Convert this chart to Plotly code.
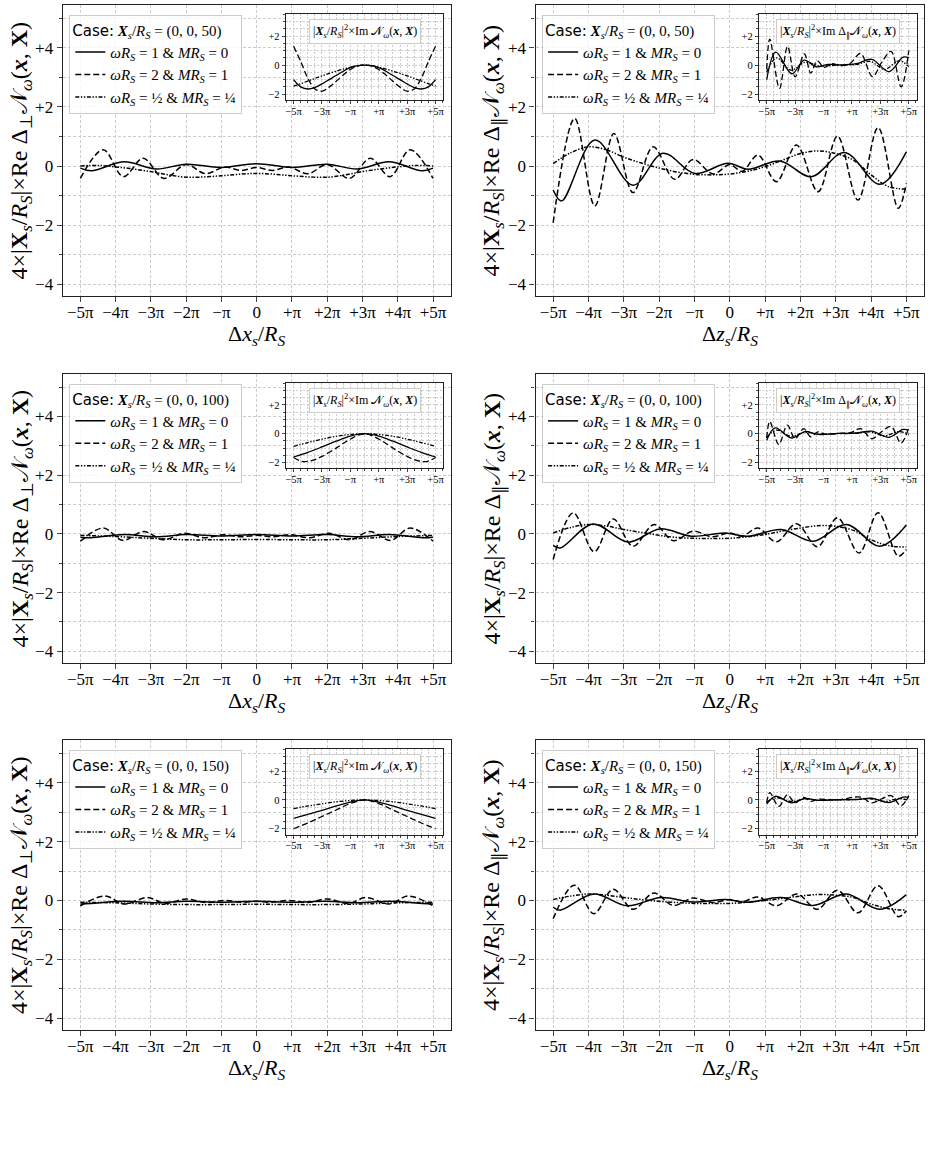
import plotly.graph_objects as go

W, H = 931, 1151
SERIF = "Liberation Serif"
SANS = "DejaVu Sans"

# ---------------- tick labels ----------------
MAIN_X_TICKS = [-5, -4, -3, -2, -1, 0, 1, 2, 3, 4, 5]
MAIN_X_LABELS = ["−5π", "−4π", "−3π", "−2π", "−π", "0", "+π", "+2π", "+3π", "+4π", "+5π"]
MAIN_Y_TICKS = [-4, -2, 0, 2, 4]
MAIN_Y_LABELS = ["−4", "−2", "0", "+2", "+4"]
MAIN_Y_MINOR = [-3, -1, 1, 3, 5]
INS_X_TICKS = [-5, -3, -1, 1, 3, 5]
INS_X_LABELS = ["−5π", "−3π", "−π", "+π", "+3π", "+5π"]
INS_X_MINOR = [-5.5, -4.5, -4, -3.5, -2.5, -2, -1.5, -0.5, 0, 0.5, 1.5, 2, 2.5, 3.5, 4, 4.5, 5.5]
INS_Y_TICKS = [-2, 0, 2]
INS_Y_LABELS = ["−2", "0", "+2"]
INS_Y_MINOR = [-1.5, -1, -0.5, 0.5, 1, 1.5, 2.5, 3, 3.5]

CASES = ["50", "50", "100", "100", "150", "150"]

# ---------------- data (x in units of pi) ----------------
# Panel A: Re Delta_perp, Xs/RS = (0,0,50)
A_sol_x = [-5, -4.68, -3.75, -2.85, -2.0, -1.0, 0.0, 1.0, 2.0, 2.85, 3.75, 4.68, 5]
A_sol_y = [-0.07, -0.16, 0.14, -0.1, 0.06, -0.05, 0.08, -0.05, 0.06, -0.1, 0.14, -0.16, -0.07]
A_das_x = [-5, -4.35, -3.78, -3.22, -2.63, -2.0, -1.45, -0.9, -0.45, 0, 0.45, 0.9, 1.45, 2.0, 2.63, 3.22, 3.78, 4.35, 5]
A_das_y = [-0.42, 0.55, -0.36, 0.26, -0.42, 0.05, -0.26, -0.03, -0.15, -0.05, -0.15, -0.03, -0.26, 0.05, -0.42, 0.26, -0.36, 0.55, -0.42]
A_dd_x = [-5, -4.5, -4, -3.5, -3, -2.5, -2, -1.5, -1, -0.5, 0, 0.5, 1, 1.5, 2, 2.5, 3, 3.5, 4, 4.5, 5]
A_dd_y = [0.0, 0.02, -0.03, -0.1, -0.19, -0.3, -0.38, -0.37, -0.33, -0.28, -0.25, -0.28, -0.33, -0.37, -0.38, -0.3, -0.19, -0.1, -0.03, 0.02, 0.0]
# inset A: Im N
a_x = [-5, -4.5, -4, -3.5, -3, -2.5, -2, -1.5, -1, -0.5, 0, 0.5, 1, 1.5, 2, 2.5, 3, 3.5, 4, 4.5, 5]
a_sol = [-1.0, -1.5, -1.65, -1.55, -1.3, -1.0, -0.72, -0.42, -0.18, -0.04, 0, -0.04, -0.18, -0.42, -0.72, -1.0, -1.3, -1.55, -1.65, -1.5, -1.0]
a_das = [1.3, 0.25, -0.9, -1.65, -1.8, -1.52, -1.12, -0.68, -0.3, -0.07, 0, -0.07, -0.3, -0.68, -1.12, -1.52, -1.8, -1.65, -0.9, 0.25, 1.3]
a_dd = [-1.45, -1.28, -1.1, -0.92, -0.74, -0.57, -0.42, -0.27, -0.15, -0.04, 0, -0.04, -0.15, -0.27, -0.42, -0.57, -0.74, -0.92, -1.1, -1.28, -1.45]

# Panel B: Re Delta_par, (0,0,50)
B_sol_x = [-5, -4.76, -3.82, -2.74, -1.89, -0.99, -0.05, 0.52, 1.42, 2.31, 3.25, 4.25, 5]
B_sol_y = [-0.81, -1.18, 0.88, -0.65, 0.43, -0.25, 0.09, -0.11, 0.17, -0.36, 0.46, -0.62, 0.48]
B_das_x = [-5, -4.39, -3.82, -3.28, -2.74, -2.17, -1.56, -1.04, -0.47, 0.0, 0.35, 0.8, 1.32, 1.89, 2.5, 3.05, 3.63, 4.2, 4.77, 5]
B_das_y = [-1.92, 1.61, -1.35, 1.1, -0.9, 0.65, -0.45, 0.22, -0.27, 0.05, -0.18, 0.37, -0.53, 0.71, -0.87, 1.01, -1.15, 1.3, -1.43, -0.59]
B_dd_x = [-5, -4.5, -4, -3.5, -3, -2.5, -2, -1.5, -1, -0.5, 0, 0.5, 1, 1.5, 2, 2.5, 3, 3.5, 4, 4.5, 5]
B_dd_y = [0.08, 0.45, 0.65, 0.55, 0.3, 0.1, -0.07, -0.2, -0.28, -0.3, -0.27, -0.18, -0.02, 0.2, 0.42, 0.51, 0.42, 0.2, -0.3, -0.7, -0.78]
# inset B: Im Delta_par N
b_sol_x = [-5, -4.36, -3.23, -2.35, -1.5, -0.7, 0.3, 1.3, 2.4, 3.6, 4.6, 5]
b_sol_y = [-1.0, 0.9, -0.6, 0.35, -0.12, 0.05, 0.02, 0.1, 0.4, -0.45, 0.55, 0.5]
b_das_x = [-5, -4.78, -4.1, -3.53, -3.0, -2.35, -1.9, -1.45, -0.95, -0.4, 0.2, 0.9, 1.6, 2.45, 3.1, 3.75, 4.46, 5]
b_das_y = [-0.3, 1.8, -1.6, 1.3, -0.8, 0.77, -0.55, 0.3, -0.15, 0.1, -0.05, 0.15, 0.8, -0.8, 0.2, 0.95, -1.5, 1.0]
b_dd_x = [-5, -4.3, -3.3, -2.3, -1.3, 0, 1.3, 2.3, 3.3, 4.3, 5]
b_dd_y = [-0.5, 0.5, -0.35, 0.2, -0.05, 0.0, 0.05, 0.25, -0.3, 0.3, -0.1]

# Panel C: Re Delta_perp, (0,0,100)
C_sol_x = [-5, -4.7, -3.75, -2.85, -2.0, -1.0, 0, 1.0, 2.0, 2.85, 3.75, 4.7, 5]
C_sol_y = [-0.11, -0.13, -0.02, -0.1, -0.02, -0.07, -0.02, -0.07, -0.02, -0.1, -0.02, -0.13, -0.11]
C_das_x = [-5, -4.35, -3.8, -3.2, -2.65, -2.05, -1.5, -0.95, -0.45, 0, 0.45, 0.95, 1.5, 2.05, 2.65, 3.2, 3.8, 4.35, 5]
C_das_y = [-0.25, 0.2, -0.22, 0.08, -0.2, 0.02, -0.13, -0.03, -0.1, -0.05, -0.1, -0.03, -0.13, 0.02, -0.2, 0.08, -0.22, 0.2, -0.25]
C_dd_x = [-5, -4, -3, -2, -1, 0, 1, 2, 3, 4, 5]
C_dd_y = [-0.05, -0.09, -0.15, -0.2, -0.2, -0.19, -0.2, -0.2, -0.15, -0.09, -0.05]
# inset C
c_x = [-5, -4, -3, -2, -1, 0, 1, 2, 3, 4, 5]
c_sol = [-1.62, -1.3, -0.92, -0.52, -0.17, 0, -0.17, -0.52, -0.92, -1.3, -1.62]
c_das_x = [-5, -4.5, -4, -3.5, -3, -2, -1, 0, 1, 2, 3, 3.5, 4, 4.5, 5]
c_das_y = [-1.65, -1.9, -1.93, -1.8, -1.58, -1.0, -0.37, 0, -0.37, -1.0, -1.58, -1.8, -1.93, -1.9, -1.65]
c_dd = [-0.88, -0.62, -0.38, -0.18, -0.05, 0, -0.05, -0.18, -0.38, -0.62, -0.88]

# Panel D: Re Delta_par, (0,0,100)
D_sol_x = [-5, -4.8, -3.87, -2.88, -1.98, -1.08, -0.14, 0.52, 1.46, 2.36, 3.3, 4.25, 5]
D_sol_y = [-0.39, -0.48, 0.34, -0.28, 0.17, -0.08, 0.03, -0.08, 0.15, -0.25, 0.32, -0.42, 0.3]
D_das_x = [-5, -4.43, -3.84, -3.3, -2.74, -2.14, -1.6, -1.04, -0.5, 0.0, 0.35, 0.8, 1.32, 1.89, 2.48, 3.05, 3.66, 4.2, 4.77, 5]
D_das_y = [-0.87, 0.72, -0.61, 0.51, -0.42, 0.32, -0.23, 0.09, -0.1, 0.03, -0.08, 0.2, -0.27, 0.35, -0.44, 0.55, -0.65, 0.72, -0.76, -0.53]
D_dd_x = [-5, -4.5, -4, -3.5, -3, -2.5, -2, -1.5, -1, -0.5, 0, 0.5, 1, 1.5, 2, 2.5, 3, 3.5, 4, 4.5, 5]
D_dd_y = [0.03, 0.22, 0.32, 0.27, 0.15, 0.05, -0.05, -0.12, -0.15, -0.16, -0.15, -0.1, -0.02, 0.1, 0.2, 0.28, 0.26, 0.12, -0.2, -0.4, -0.45]
# inset D
d_sol_x = [-5, -4.4, -3.25, -2.3, -1.4, 0, 1.3, 2.4, 3.6, 4.6, 5]
d_sol_y = [-0.45, 0.4, -0.3, 0.15, -0.05, 0.02, 0.05, 0.18, -0.25, 0.3, 0.25]
d_das_x = [-5, -4.78, -4.15, -3.55, -3.0, -2.4, -1.9, -1.4, -0.8, 0, 0.9, 1.6, 2.4, 3.1, 3.75, 4.45, 5]
d_das_y = [-0.3, 0.85, -0.75, 0.6, -0.35, 0.35, -0.22, 0.12, -0.05, 0.02, 0.08, 0.35, -0.35, 0.15, 0.5, -0.65, 0.45]
d_dd_x = [-5, -4.3, -3.3, -2.3, -1.3, 0, 1.3, 2.3, 3.3, 4.3, 5]
d_dd_y = [-0.25, 0.25, -0.18, 0.1, -0.03, 0.0, 0.03, 0.12, -0.15, 0.15, -0.05]

# Panel E: Re Delta_perp, (0,0,150)
E_sol_x = [-5, -4.7, -3.75, -2.85, -2.0, -1.0, 0, 1.0, 2.0, 2.85, 3.75, 4.7, 5]
E_sol_y = [-0.12, -0.1, -0.03, -0.08, -0.03, -0.06, -0.03, -0.06, -0.03, -0.08, -0.03, -0.1, -0.12]
E_das_x = [-5, -4.3, -3.75, -3.1, -2.6, -2.0, -1.45, -0.9, -0.4, 0, 0.4, 0.9, 1.45, 2.0, 2.6, 3.1, 3.75, 4.3, 5]
E_das_y = [-0.18, 0.15, -0.12, 0.1, -0.1, 0.05, -0.07, 0.0, -0.06, -0.03, -0.06, 0.0, -0.07, 0.05, -0.1, 0.1, -0.12, 0.15, -0.18]
E_dd_x = [-5, -4, -3, -2, -1, 0, 1, 2, 3, 4, 5]
E_dd_y = [-0.06, -0.08, -0.12, -0.14, -0.14, -0.13, -0.14, -0.14, -0.12, -0.08, -0.06]
# inset E
e_x = [-5, -4, -3, -2, -1, 0, 1, 2, 3, 4, 5]
e_sol = [-1.28, -1.0, -0.72, -0.42, -0.15, 0, -0.15, -0.42, -0.72, -1.0, -1.28]
e_das = [-2.0, -1.6, -1.15, -0.7, -0.25, 0, -0.25, -0.7, -1.15, -1.6, -2.0]
e_dd = [-0.6, -0.42, -0.27, -0.13, -0.04, 0, -0.04, -0.13, -0.27, -0.42, -0.6]

# Panel F: Re Delta_par, (0,0,150)
F_sol_x = [-5, -4.8, -3.85, -2.9, -1.95, -1.05, -0.1, 0.5, 1.45, 2.35, 3.3, 4.25, 5]
F_sol_y = [-0.23, -0.33, 0.22, -0.18, 0.1, -0.05, 0.03, -0.06, 0.1, -0.17, 0.22, -0.3, 0.2]
F_das_x = [-5, -4.4, -3.85, -3.3, -2.74, -2.15, -1.6, -1.04, -0.5, 0.0, 0.35, 0.8, 1.32, 1.9, 2.48, 3.05, 3.63, 4.2, 4.77, 5]
F_das_y = [-0.62, 0.52, -0.45, 0.38, -0.3, 0.25, -0.17, 0.08, -0.07, 0.03, -0.05, 0.12, -0.18, 0.22, -0.3, 0.35, -0.42, 0.5, -0.55, -0.35]
F_dd_x = [-5, -4.5, -4, -3.5, -3, -2.5, -2, -1.5, -1, -0.5, 0, 0.5, 1, 1.5, 2, 2.5, 3, 3.5, 4, 4.5, 5]
F_dd_y = [0.03, 0.15, 0.22, 0.18, 0.1, 0.03, -0.03, -0.07, -0.1, -0.1, -0.1, -0.06, 0.0, 0.07, 0.15, 0.2, 0.18, 0.1, -0.12, -0.28, -0.33]
# inset F
f_sol_x = [-5, -4.4, -3.25, -2.3, -1.4, 0, 1.3, 2.4, 3.6, 4.6, 5]
f_sol_y = [-0.3, 0.25, -0.2, 0.1, -0.03, 0.02, 0.03, 0.12, -0.18, 0.2, 0.18]
f_das_x = [-5, -4.78, -4.15, -3.55, -3.0, -2.4, -1.9, -1.4, 0, 1.6, 2.4, 3.1, 3.75, 4.45, 5]
f_das_y = [-0.2, 0.5, -0.45, 0.35, -0.2, 0.18, -0.1, 0.05, 0.0, 0.2, -0.2, 0.08, 0.3, -0.4, 0.3]
f_dd_x = [-5, -4.3, -3.3, -2.3, -1.3, 0, 1.3, 2.3, 3.3, 4.3, 5]
f_dd_y = [-0.15, 0.15, -0.1, 0.06, -0.02, 0.0, 0.02, 0.08, -0.1, 0.1, -0.03]

# ---------------- text ----------------
SERIES_NAMES = [
    "<i>ωR</i><sub><i>S</i></sub> = 1 &amp; <i>MR</i><sub><i>S</i></sub> = 0",
    "<i>ωR</i><sub><i>S</i></sub> = 2 &amp; <i>MR</i><sub><i>S</i></sub> = 1",
    "<i>ωR</i><sub><i>S</i></sub> = ½ &amp; <i>MR</i><sub><i>S</i></sub> = ¼",
]
NCAL = "𝒩"
XS = "<b><i>X</i></b><sub><i>s</i></sub>"
XS_UP = "<b>X</b><sub><i>s</i></sub>"
RS = "<i>R</i><sub><i>S</i></sub>"
ARGS = "(<b><i>x</i></b>, <b><i>X</i></b>)"


def ytitle(sym):
    return ("4×|" + XS_UP + "/" + RS + "|×Re Δ<sub>" + sym + "</sub>" + NCAL
            + "<sub><i>ω</i></sub>(<b><i>x</i></b>, <b>X</b>)")


def inset_title(sym):
    d = "" if sym is None else "Δ<sub>" + sym + "</sub>"
    return "|" + XS + "/" + RS + "|<sup>2</sup>×Im " + d + NCAL + "<sub><i>ω</i></sub>" + ARGS


panels = [
    dict(sym="⊥", xl="x", data=[(A_sol_x, A_sol_y), (A_das_x, A_das_y), (A_dd_x, A_dd_y)],
         ins=[(a_x, a_sol), (a_x, a_das), (a_x, a_dd)]),
    dict(sym="∥", xl="z", data=[(B_sol_x, B_sol_y), (B_das_x, B_das_y), (B_dd_x, B_dd_y)],
         ins=[(b_sol_x, b_sol_y), (b_das_x, b_das_y), (b_dd_x, b_dd_y)]),
    dict(sym="⊥", xl="x", data=[(C_sol_x, C_sol_y), (C_das_x, C_das_y), (C_dd_x, C_dd_y)],
         ins=[(c_x, c_sol), (c_das_x, c_das_y), (c_x, c_dd)]),
    dict(sym="∥", xl="z", data=[(D_sol_x, D_sol_y), (D_das_x, D_das_y), (D_dd_x, D_dd_y)],
         ins=[(d_sol_x, d_sol_y), (d_das_x, d_das_y), (d_dd_x, d_dd_y)]),
    dict(sym="⊥", xl="x", data=[(E_sol_x, E_sol_y), (E_das_x, E_das_y), (E_dd_x, E_dd_y)],
         ins=[(e_x, e_sol), (e_x, e_das), (e_x, e_dd)]),
    dict(sym="∥", xl="z", data=[(F_sol_x, F_sol_y), (F_das_x, F_das_y), (F_dd_x, F_dd_y)],
         ins=[(f_sol_x, f_sol_y), (f_das_x, f_das_y), (f_dd_x, f_dd_y)]),
]

DASHES = ["solid", "6px,3px", "4px,1.6px,1.4px,1.6px,1.4px,1.6px"]

# ---------------- geometry (pixels) ----------------
COLS = [(62.7, 450.7), (535.5, 924.0)]
ROWS = [(5, 296), (374, 663), (740, 1030)]
YLAB_X = [21, 493]


def px_x(v):
    return v / W


def px_y(v):
    return 1 - v / H


fig = go.Figure()
layout = dict(width=W, height=H, margin=dict(l=0, r=0, t=0, b=0),
              paper_bgcolor="white", plot_bgcolor="white",
              font=dict(family=SERIF, color="black"), showlegend=True)
annotations = []

grid_col = "#cccccc"

for p, pan in enumerate(panels):
    r, c = divmod(p, 2)
    x0, x1 = COLS[c]
    y0, y1 = ROWS[r]
    w, h = x1 - x0, y1 - y0
    k = p + 1
    ki = p + 7
    ax = "x" if k == 1 else "x%d" % k
    ay = "y" if k == 1 else "y%d" % k
    ix, iy = "x%d" % ki, "y%d" % ki
    leg = "legend" if k == 1 else "legend%d" % k

    # main traces
    for s, (xs, ys) in enumerate(pan["data"]):
        fig.add_trace(go.Scatter(
            x=xs, y=ys, mode="lines", name=SERIES_NAMES[s],
            line=dict(color="black", width=1.5, dash=DASHES[s], shape="spline", smoothing=1.0),
            xaxis=ax, yaxis=ay, legend=leg, showlegend=True, hoverinfo="skip"))
    # inset traces
    for s, (xs, ys) in enumerate(pan["ins"]):
        fig.add_trace(go.Scatter(
            x=xs, y=ys, mode="lines",
            line=dict(color="black", width=1.3, dash=DASHES[s], shape="spline", smoothing=1.0),
            xaxis=ix, yaxis=iy, showlegend=False, hoverinfo="skip"))

    xname = "xaxis" if k == 1 else "xaxis%d" % k
    yname = "yaxis" if k == 1 else "yaxis%d" % k
    layout[xname] = dict(
        domain=[px_x(x0), px_x(x1)], anchor=ay, range=[-5.5, 5.5],
        tickmode="array", tickvals=MAIN_X_TICKS, ticktext=MAIN_X_LABELS,
        tickfont=dict(size=17, family=SERIF), ticks="outside", ticklen=5, tickwidth=1,
        ticklabelstandoff=-5,
        showline=True, mirror=True, linecolor="#222", linewidth=1.2,
        showgrid=True, gridcolor=grid_col, gridwidth=0.8, griddash="3px,2px", zeroline=False)
    layout[yname] = dict(
        domain=[px_y(y1), px_y(y0)], anchor=ax, range=[-4.4, 5.45],
        tickmode="array", tickvals=MAIN_Y_TICKS, ticktext=MAIN_Y_LABELS,
        tickfont=dict(size=17, family=SERIF), ticks="outside", ticklen=5, tickwidth=1,
        minor=dict(tickvals=MAIN_Y_MINOR, ticks="outside", ticklen=3, showgrid=True,
                   gridcolor=grid_col, gridwidth=0.8, griddash="3px,2px"),
        showline=True, mirror=True, linecolor="#222", linewidth=1.2,
        showgrid=True, gridcolor=grid_col, gridwidth=0.8, griddash="3px,2px", zeroline=False)

    # inset axes
    ix0, ix1 = x0 + 0.575 * w, x0 + 0.981 * w
    iy0, iy1 = y0 + 0.03 * h, y0 + 0.326 * h
    layout["xaxis%d" % ki] = dict(
        domain=[px_x(ix0), px_x(ix1)], anchor=iy, range=[-5.55, 5.55],
        tickmode="array", tickvals=INS_X_TICKS, ticktext=INS_X_LABELS,
        tickfont=dict(size=10.5, family=SERIF), ticks="outside", ticklen=3,
        ticklabelstandoff=-2,
        minor=dict(tickvals=INS_X_MINOR, ticks="outside", ticklen=2, showgrid=True,
                   gridcolor=grid_col, gridwidth=0.6, griddash="2px,1.5px"),
        showline=True, mirror=True, linecolor="#222", linewidth=1.2,
        showgrid=True, gridcolor=grid_col, gridwidth=0.6, griddash="2px,1.5px", zeroline=False)
    layout["yaxis%d" % ki] = dict(
        domain=[px_y(iy1), px_y(iy0)], anchor=ix, range=[-2.4, 3.55],
        tickmode="array", tickvals=INS_Y_TICKS, ticktext=INS_Y_LABELS,
        tickfont=dict(size=10.5, family=SERIF), ticks="outside", ticklen=3,
        minor=dict(tickvals=INS_Y_MINOR, ticks="outside", ticklen=2, showgrid=True,
                   gridcolor=grid_col, gridwidth=0.6, griddash="2px,1.5px"),
        showline=True, mirror=True, linecolor="#222", linewidth=1.2,
        showgrid=True, gridcolor=grid_col, gridwidth=0.6, griddash="2px,1.5px", zeroline=False)

    # legend
    layout[leg] = dict(
        x=px_x(x0 + 0.017 * w), y=px_y(y0 + 0.035 * h), xanchor="left", yanchor="top",
        bgcolor="rgba(255,255,255,0.8)", bordercolor="#cccccc", borderwidth=1,
        font=dict(size=15, family=SERIF), tracegroupgap=0,
        title=dict(text="<span style='font-family:DejaVu Sans'>Case:</span> " + XS + "/" + RS
                   + " = (0, 0, " + CASES[p] + ")", font=dict(size=15, family=SERIF)))

    # inset title box
    annotations.append(dict(
        x=px_x((ix0 + ix1) / 2), y=px_y(iy0 + 5), xref="paper", yref="paper",
        xanchor="center", yanchor="top", showarrow=False,
        text=inset_title(None if pan["sym"] == "⊥" else "∥"),
        font=dict(size=12, family=SERIF), bgcolor="rgba(255,255,255,0.85)",
        bordercolor="#cccccc", borderwidth=1, borderpad=3))

    # axis titles
    annotations.append(dict(
        x=px_x((x0 + x1) / 2), y=px_y(y1 + 39), xref="paper", yref="paper",
        xanchor="center", yanchor="middle", showarrow=False,
        text="Δ<i>" + pan["xl"] + "</i><sub><i>s</i></sub>/" + RS,
        font=dict(size=22, family=SERIF)))
    annotations.append(dict(
        x=px_x(YLAB_X[c]), y=px_y((y0 + y1) / 2), xref="paper", yref="paper",
        xanchor="center", yanchor="middle", showarrow=False, textangle=-90,
        text=ytitle(pan["sym"]), font=dict(size=24, family=SERIF)))

layout["annotations"] = annotations
fig.update_layout(**layout)
fig.write_html("out.html")
